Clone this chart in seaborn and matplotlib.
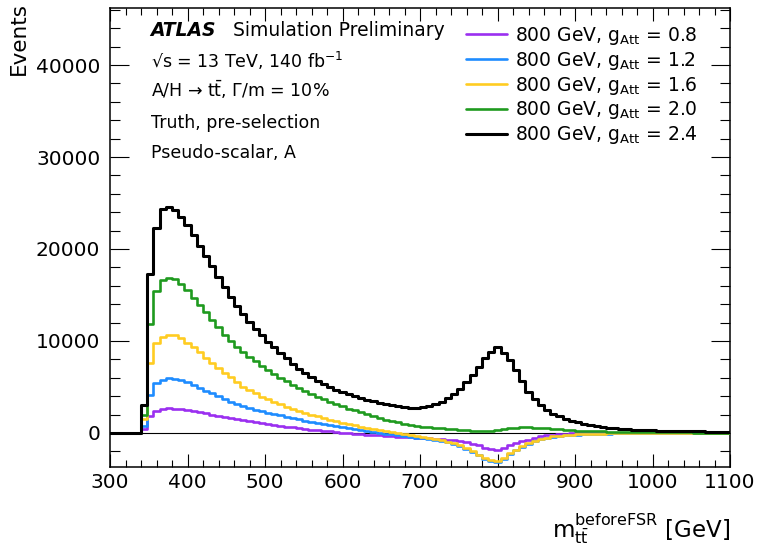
import numpy as np
import pandas as pd
import matplotlib
matplotlib.use("Agg")
import matplotlib.pyplot as plt
from matplotlib.lines import Line2D
from matplotlib.ticker import MultipleLocator
import seaborn as sns

# ---------------- data (8 GeV bins, 300-1100 GeV) ----------------
bin_lo = 300
bin_hi = 1100
bin_width = 8
mass_label = "800 GeV"
couplings = ["0.8", "1.2", "1.6", "2.0", "2.4"]

events_g08 = [
    0, 0, 0, 0, 0, 400, 1850, 2400, 2600, 2680,
    2650, 2600, 2500, 2400, 2280, 2150, 2000, 1850, 1700, 1580,
    1470, 1360, 1250, 1150, 1050, 950, 860, 770, 680, 600,
    520, 440, 370, 300, 230, 160, 100, 40, -20, -80,
    -130, -180, -230, -270, -310, -350, -390, -430, -470, -510,
    -550, -590, -630, -670, -720, -780, -880, -1000, -1150, -1350,
    -1600, -1780, -1850, -1650, -1350, -1100, -900, -720, -530, -380,
    -260, -170, -110, -70, -45, -30, -20, -14, -10, -7,
    -5, -4, -3, -2, -2, -1, -1, 0, 0, 0,
    0, 0, 0, 0, 0, 0, 0, 0, 0, 0,
]
events_g12 = [
    0, 0, 0, 0, 0, 800, 4100, 5400, 5800, 5950,
    5900, 5750, 5500, 5200, 4900, 4600, 4300, 4000, 3700, 3400,
    3150, 2900, 2700, 2500, 2350, 2200, 2050, 1900, 1750, 1600,
    1470, 1340, 1210, 1090, 970, 860, 750, 640, 540, 440,
    340, 240, 140, 40, -60, -150, -240, -330, -420, -510,
    -600, -690, -790, -900, -1030, -1180, -1420, -1720, -2070, -2420,
    -2780, -3050, -3150, -2800, -2300, -1880, -1480, -1160, -900, -700,
    -540, -420, -330, -260, -210, -170, -140, -115, -95, -80,
    -65, -55, -45, -38, -32, -27, -23, -20, -17, -14,
    -12, -10, -8, -6, -5, -4, -3, -2, -1, 0,
]
events_g16 = [
    0, 0, 0, 0, 0, 1500, 7600, 9750, 10400, 10700,
    10600, 10300, 9800, 9300, 8750, 8200, 7650, 7100, 6550, 6050,
    5500, 5050, 4650, 4300, 3950, 3650, 3350, 3100, 2850, 2600,
    2400, 2200, 2000, 1800, 1620, 1450, 1280, 1120, 970, 830,
    690, 560, 440, 320, 210, 100, 0, -100, -200, -300,
    -400, -520, -640, -780, -940, -1100, -1350, -1650, -2000, -2350,
    -2700, -2950, -3050, -2700, -2200, -1800, -1400, -1100, -850, -650,
    -500, -380, -300, -240, -190, -150, -120, -100, -80, -65,
    -55, -45, -35, -30, -25, -20, -18, -15, -12, -10,
    -8, -6, -5, -4, -3, -2, -2, -1, -1, 0,
]
events_g20 = [
    0, 0, 0, 0, 0, 2000, 11800, 15400, 16600, 16900,
    16700, 16200, 15500, 14700, 13900, 13100, 12300, 11500, 10700, 9950,
    9400, 8850, 8300, 7800, 7300, 6850, 6400, 6000, 5600, 5250,
    4900, 4550, 4250, 3950, 3650, 3400, 3150, 2900, 2650, 2450,
    2250, 2050, 1850, 1650, 1450, 1300, 1150, 1000, 880, 780,
    700, 620, 560, 500, 450, 400, 350, 300, 250, 200,
    160, 200, 320, 420, 500, 560, 600, 600, 580, 540,
    490, 440, 390, 340, 300, 260, 230, 200, 180, 160,
    140, 125, 110, 100, 90, 85, 80, 75, 70, 65,
    60, 58, 55, 52, 50, 48, 46, 44, 42, 40,
]
events_g24 = [
    0, 0, 0, 0, 0, 3000, 17300, 22300, 24300, 24600,
    24200, 23500, 22600, 21500, 20300, 19200, 18100, 17000, 15900, 14800,
    13800, 12900, 12100, 11300, 10600, 9900, 9300, 8700, 8100, 7500,
    7000, 6550, 6100, 5700, 5350, 5000, 4700, 4450, 4200, 4000,
    3800, 3600, 3450, 3300, 3150, 3000, 2900, 2800, 2750, 2750,
    2800, 2950, 3150, 3400, 3750, 4200, 4800, 5500, 6300, 7200,
    8100, 8800, 9300, 8700, 7900, 6800, 5600, 4500, 3700, 3000,
    2500, 2100, 1800, 1550, 1350, 1150, 1000, 870, 760, 670,
    590, 520, 460, 410, 370, 330, 300, 270, 250, 230,
    215, 200, 190, 180, 170, 160, 155, 150, 145, 140,
]
series = [events_g08, events_g12, events_g16, events_g20, events_g24]
colors = ["#9b2ff0", "#1e8cff", "#ffcc22", "#1f9a1f", "#000000"]
widths = [1.9, 1.9, 1.9, 1.9, 2.2]

x_ticks = [300, 400, 500, 600, 700, 800, 900, 1000, 1100]
y_ticks = [0, 10000, 20000, 30000, 40000]

# ---------------- style ----------------
sns.set_style("ticks")
plt.rcParams["font.family"] = ["DejaVu Sans"]
plt.rcParams["mathtext.fontset"] = "dejavusans"
plt.rcParams["text.color"] = "black"
plt.rcParams["xtick.color"] = "black"
plt.rcParams["ytick.color"] = "black"
plt.rcParams["xtick.labelcolor"] = "black"
plt.rcParams["ytick.labelcolor"] = "black"

W, H = 757, 550
fig = plt.figure(figsize=(W / 100, H / 100), dpi=100)
L, R, T, B = 110, 730, 8, 467
ax = fig.add_axes([L / W, 1 - B / H, (R - L) / W, (B - T) / H])

n_bins = len(events_g24)
centers = bin_lo + bin_width * (np.arange(n_bins) + 0.5)

ax.axhline(0, color="black", lw=0.8, zorder=1)

handles = []
labels = []
for vals, col, lw, g in zip(series, colors, widths, couplings):
    df = pd.DataFrame({"m": centers, "w": np.asarray(vals, dtype=float)})
    sns.histplot(data=df, x="m", weights="w", binwidth=bin_width,
                 binrange=(bin_lo, bin_hi), element="step",
                 fill=False, color=col, linewidth=lw, ax=ax, zorder=3)
    handles.append(Line2D([], [], color=col, lw=lw))
    labels.append(mass_label + r", g$_{\mathrm{Att}}$ = " + g)

ax.set_xlim(300, 1100)
ax.set_ylim(-3700, 46200)
ax.set_xticks(x_ticks)
ax.set_yticks(y_ticks)
ax.xaxis.set_minor_locator(MultipleLocator(20))
ax.yaxis.set_minor_locator(MultipleLocator(2000))
ax.set_xlabel("")
ax.set_ylabel("")

ax.tick_params(axis="both", which="both", direction="in", top=True, right=True,
               width=0.8, color="black", labelcolor="black", labelsize=14.5)
ax.tick_params(axis="x", which="major", length=9.5, pad=4)
ax.tick_params(axis="x", which="minor", length=5)
ax.tick_params(axis="y", which="major", length=14, pad=7)
ax.tick_params(axis="y", which="minor", length=7)
for sp in ax.spines.values():
    sp.set_linewidth(1.1)
    sp.set_color("black")

# legend
leg = ax.legend(handles, labels, loc="upper left",
                bbox_to_anchor=(466 / W, 1 - 25 / H), bbox_transform=fig.transFigure,
                frameon=False, fontsize=13.5, handlelength=2.17, handletextpad=0.44,
                labelspacing=0.15, borderpad=0, borderaxespad=0)
for t in leg.get_texts():
    t.set_color("black")

# text block
fig.text(150.7 / W, 1 - 36.5 / H, "ATLAS", fontsize=13.5, fontweight="bold",
         fontstyle="italic", va="baseline", ha="left", color="black")
fig.text(233 / W, 1 - 36.5 / H, "Simulation Preliminary", fontsize=13.5,
         va="baseline", ha="left", color="black")
fig.text(150.7 / W, 1 - 68.3 / H, "√s = 13 TeV, 140 fb$^{-1}$", fontsize=12.5,
         va="baseline", ha="left", color="black")
fig.text(150.7 / W, 1 - 96.7 / H, r"A/H → $\mathrm{t\bar{t}}$, Γ/m = 10%",
         fontsize=12.5, va="baseline", ha="left", color="black")
fig.text(150.7 / W, 1 - 128.3 / H, "Truth, pre-selection", fontsize=12.5,
         va="baseline", ha="left", color="black")
fig.text(150.7 / W, 1 - 157.7 / H, "Pseudo-scalar, A", fontsize=12.5,
         va="baseline", ha="left", color="black")

# axis titles
fig.text(19 / W, 1 - 2 / H, "Events", rotation=90, fontsize=15.5,
         ha="center", va="top", color="black")
fig.text(730 / W, 1 - 537 / H,
         r"$\mathrm{m}_{\mathrm{t\bar{t}}}^{\mathrm{beforeFSR}}$ [GeV]",
         fontsize=16.5, ha="right", va="baseline", color="black")

fig.savefig("out.png", dpi=100)
